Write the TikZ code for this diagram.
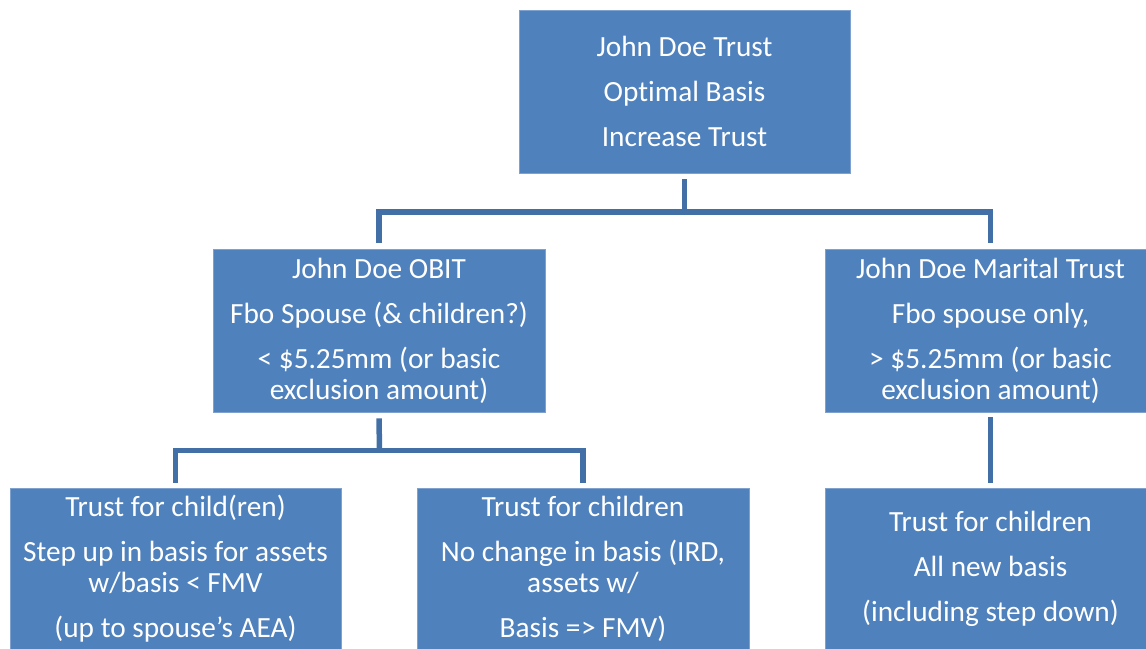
\documentclass[tikz,border=0pt]{standalone}
\usepackage{fontspec}
\setmainfont[Ligatures={NoCommon}]{Carlito}
\definecolor{boxfill}{HTML}{4F81BD}
\definecolor{boxline}{HTML}{7FA1CF}
\definecolor{conn}{HTML}{4270A6}
\begin{document}
\begin{tikzpicture}[x=1pt,y=-1pt,
  box/.style={rectangle,fill=boxfill,draw=boxline,line width=0.8pt,
    text=white,align=center,inner sep=0pt,
    font=\fontsize{29.3}{31}\selectfont},
  conn/.style={draw=conn,line width=5.5pt,line join=miter}]
\useasboundingbox (0,0) rectangle (1146,648);
\clip (0,0) rectangle (1146,648);
\node[box,minimum width=331pt,minimum height=163pt] (top) at (684.5,91.5)
  {John Doe Trust\\[14pt]Optimal Basis\\[14pt]Increase Trust};
\node[box,minimum width=332pt,minimum height=163pt] (obit) at (379,330.5)
  {John Doe OBIT\\[14pt]Fbo Spouse (\& children?)\\[14pt]{<} \$5.25mm (or basic\\exclusion amount)};
\node[box,minimum width=331pt,minimum height=163pt] (marital) at (990.5,330.5)
  {John Doe Marital Trust\\[14pt]Fbo spouse only,\\[14pt]{>} \$5.25mm (or basic\\exclusion amount)};
\node[box,minimum width=331pt,minimum height=162pt] (child1) at (175.5,569)
  {Trust for child(ren)\\[14pt]Step up in basis for assets\\w/basis {<} FMV\\[14pt](up to spouse’s AEA)};
\node[box,minimum width=332pt,minimum height=162pt] (child2) at (583,569)
  {Trust for children\\[14pt]No change in basis (IRD,\\assets w/\\[14pt]Basis =\kern0.5pt> FMV)};
\node[box,minimum width=331pt,minimum height=162pt] (child3) at (990.5,569)
  {Trust for children\\[14pt]All new basis\\[14pt](including step down)};
\coordinate (bus1) at (684.5,212);
\coordinate (bus2) at (379.5,450.5);
\draw[conn] ([yshift=-6pt]top.south) -- (bus1);
\draw[conn] ([yshift=6pt]obit.north) |- (bus1);
\draw[conn] ([yshift=6pt]marital.north) |- (bus1);
\draw[conn] ([yshift=-6pt]obit.south) -- (bus2);
\draw[conn] ([yshift=5pt]child1.north) |- (bus2);
\draw[conn] ([yshift=5pt]child2.north) |- (bus2);
\draw[conn] ([yshift=-5pt]marital.south) -- ([yshift=5pt]child3.north);
\end{tikzpicture}
\end{document}
